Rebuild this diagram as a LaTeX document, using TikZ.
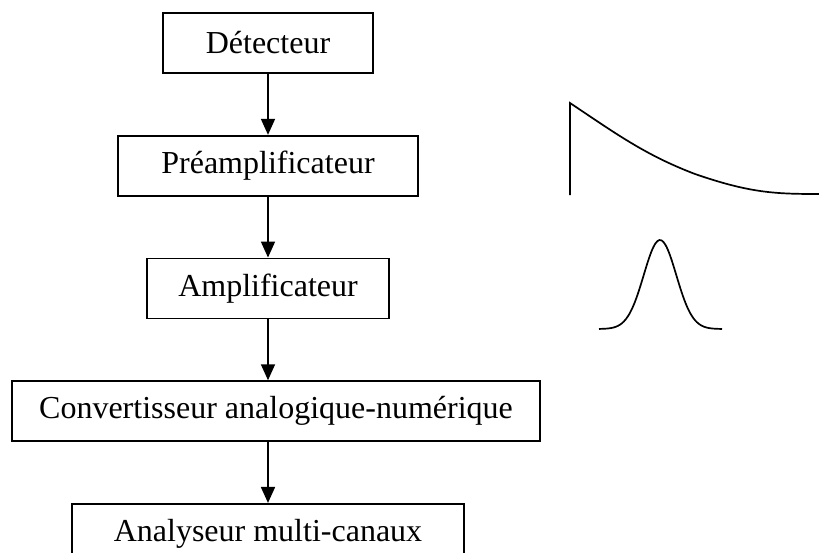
\documentclass[tikz,border=0pt]{standalone}
\usepackage{fontspec}
\setmainfont{Liberation Serif}
\usetikzlibrary{arrows.meta}
\usetikzlibrary{positioning}

\begin{document}
\begin{tikzpicture}[x=1pt,y=-1pt,->,>={Triangle[width=14pt,length=16pt]},
			line width=1.7pt,node distance=61pt]
			\tikzstyle{bloc}=[draw,rectangle,minimum height=60pt,font=\fontsize{32}{38}\selectfont]
			
			\useasboundingbox (0,0) rectangle (819,552);
			
			\node[bloc,minimum width=210pt] (Det) at (268,43)          {Détecteur};
			\node[bloc,minimum width=300pt] (Pre) [below=of Det]       {Préamplificateur};
			\node[bloc,minimum width=242pt] (Amp) [below=of Pre]       {Amplificateur};
			\node[bloc,minimum width=528pt] (Con) [below=of Amp,xshift=8pt] {Convertisseur analogique-numérique};
			\node[bloc,minimum width=392pt] (Ana) [below=of Con,xshift=-8pt] {Analyseur multi-canaux};
			
			\path (Det) edge (Pre)
			(Pre) edge (Amp);
			\draw (Amp.south) -- (Amp.south |- Con.north);
			\draw (Con.south -| Ana.north) -- (Ana.north);
			
			% formes des signaux
			\draw[-] (570,195) -- (570,103)
			.. controls (615,133) and (645,155) .. (695,174)
			.. controls (750,193) and (775,194) .. (819,194);
			\draw[-,smooth,domain=599:722,samples=60] plot (\x,{329-89*exp(-((\x-660)/23)^2)});
			\end{tikzpicture}
\end{document}
